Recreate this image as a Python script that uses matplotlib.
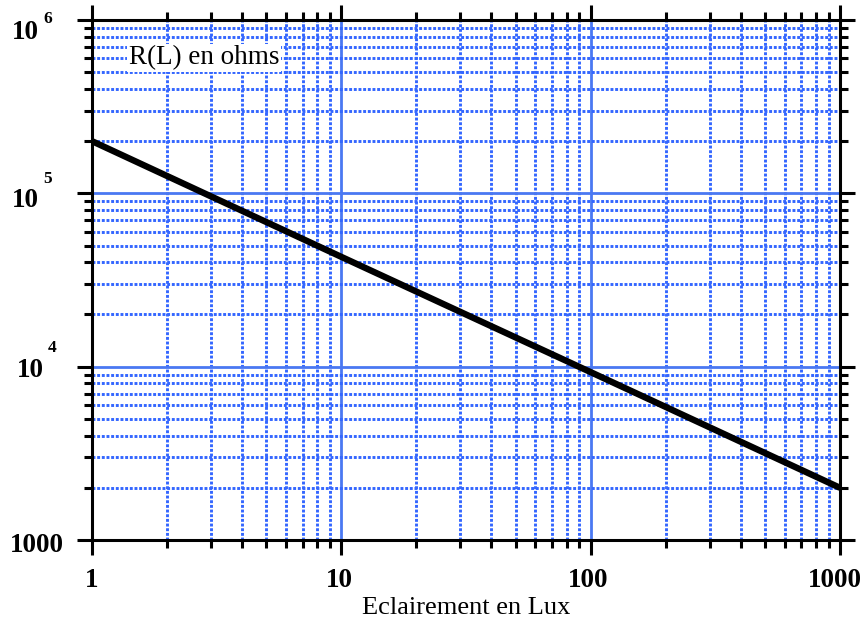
import matplotlib
matplotlib.use("Agg")
import matplotlib.pyplot as plt
from matplotlib.ticker import FixedLocator, LogLocator, NullFormatter
from matplotlib.transforms import offset_copy

# Data
lux = [1, 10, 100, 1000]
resistance = [2.0e5, 4.3e4, 9.3e3, 2.0e3]

x_ticks = [1, 10, 100, 1000]
x_labels = ["1", "10", "100", "1000"]
y_ticks = [1e3, 1e4, 1e5, 1e6]
y_label_base = ["1000", "10", "10", "10"]
y_label_exp = ["", "4", "5", "6"]

plt.rcParams['font.family'] = ['Liberation Serif', 'DejaVu Serif']

fig = plt.figure(figsize=(8.65, 6.21), dpi=100)
ax = fig.add_axes([92/865, 1-540/621, 748/865, 520/621])

ax.set_xscale('log')
ax.set_yscale('log')
ax.set_xlim(1, 1000)
ax.set_ylim(1e3, 1e6)

ax.grid(True, which='major', color='#4a78f2', linewidth=2.0, linestyle='-')
ax.grid(True, which='minor', color='#3366ff', linewidth=2.1, linestyle=(0, (1.0, 0.6)))
ax.set_axisbelow(True)

ax.plot(lux, resistance, color='black', linewidth=4.6, solid_capstyle='butt', zorder=5)

ax.xaxis.set_major_locator(FixedLocator(x_ticks))
ax.yaxis.set_major_locator(FixedLocator(y_ticks))
ax.xaxis.set_minor_locator(LogLocator(base=10, subs=range(2, 10)))
ax.yaxis.set_minor_locator(LogLocator(base=10, subs=range(2, 10)))
for a in (ax.xaxis, ax.yaxis):
    a.set_major_formatter(NullFormatter())
    a.set_minor_formatter(NullFormatter())

ax.tick_params(which='major', direction='out', length=11, width=2.2, color='black',
               top=True, right=True)
ax.tick_params(which='minor', direction='out', length=6, width=2.2, color='black',
               top=True, right=True)

for s in ax.spines.values():
    s.set_linewidth(2.2)
    s.set_color('black')

# --- tick labels (bold serif, as in the reference) ---
lab_size = 19.5
x_dx = [0, -2, -3, -5]          # pixel nudges of x tick labels
for xv, txt, dx in zip(x_ticks, x_labels, x_dx):
    tr = offset_copy(ax.get_xaxis_transform(), fig=fig, x=dx, y=-47, units='dots')
    ax.text(xv, 0, txt, transform=tr, ha='center', va='baseline',
            fontsize=lab_size, fontweight='bold', clip_on=False)

y_left = [10, 17, 12, 12]       # left edge of label, px from figure edge
y_drop = [12, 10, 14, 19]       # baseline below tick, px
sup_rise = [0, 25, 24, 16]      # exponent baseline above base baseline, px
for yv, base, exp, lx, dr, sr in zip(y_ticks, y_label_base, y_label_exp, y_left, y_drop, sup_rise):
    tr = offset_copy(ax.get_yaxis_transform(), fig=fig, x=lx - 92, y=-dr, units='dots')
    ax.text(0, yv, base, transform=tr, ha='left', va='baseline',
            fontsize=lab_size, fontweight='bold', clip_on=False)
    if exp:
        tr2 = offset_copy(ax.get_yaxis_transform(), fig=fig, x=lx - 92 + 31, y=-dr + sr, units='dots')
        ax.text(0, yv, exp, transform=tr2, ha='left', va='baseline',
                fontsize=12.5, fontweight='bold', clip_on=False)

tr = offset_copy(ax.transAxes, fig=fig, x=0, y=-74, units='dots')
ax.text(0.5, 0, "Eclairement en Lux", transform=tr, ha='center', va='baseline',
        fontsize=19, clip_on=False)

ax.text(0.049, 0.927, "R(L) en ohms", transform=ax.transAxes, fontsize=19.5,
        ha='left', va='center', zorder=6,
        bbox=dict(facecolor='white', edgecolor='none', pad=1))

fig.savefig("out.png", dpi=100)
